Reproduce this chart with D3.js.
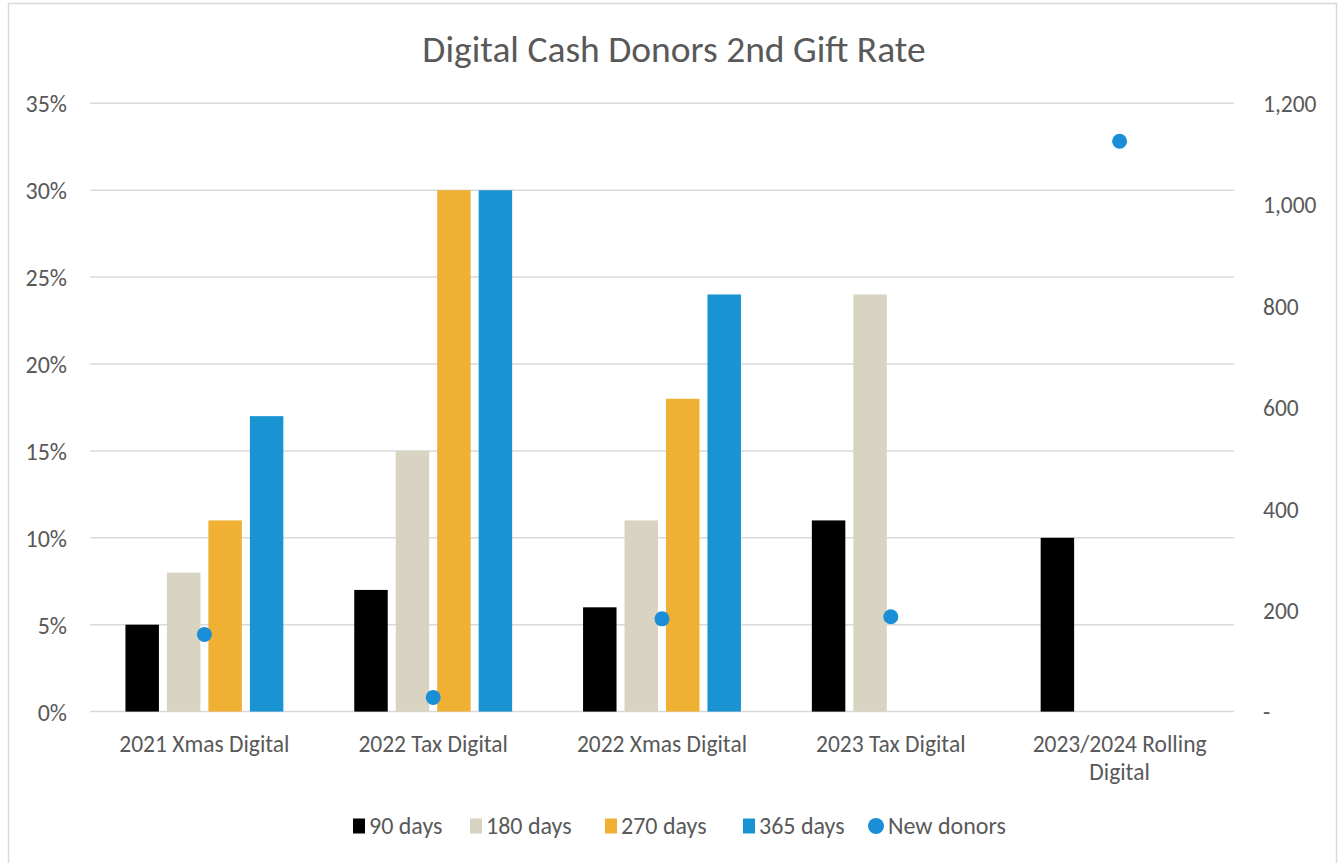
<!DOCTYPE html>
<html>
<head>
<meta charset="utf-8">
<script src="https://cdn.jsdelivr.net/npm/d3@7"></script>
<style>
  html, body { margin: 0; padding: 0; background: #fff; }
  svg { display: block; }
  text { font-family: Carlito, Lato, "Open Sans", sans-serif; fill: #595959; }
</style>
</head>
<body>
<svg id="chart" width="1341" height="863"></svg>
<script>
// Campaign cohorts along the x axis
const categories = ["2021 Xmas Digital", "2022 Tax Digital", "2022 Xmas Digital", "2023 Tax Digital", "2023/2024 Rolling Digital"];
// Second-gift rate within each window (null = not yet measurable)
const series = ["90 days", "180 days", "270 days", "365 days"];
const rate90  = [0.05, 0.07, 0.06, 0.11, 0.10];
const rate180 = [0.08, 0.15, 0.11, 0.24, null];
const rate270 = [0.11, 0.30, 0.18, null, null];
const rate365 = [0.17, 0.30, 0.24, null, null];
// Count of new donors per cohort (right axis)
const newDonors = [152, 28, 183, 187, 1125];
// Axis ticks
const leftTicks = [0, 0.05, 0.10, 0.15, 0.20, 0.25, 0.30, 0.35];
const rightTicks = [0, 200, 400, 600, 800, 1000, 1200];

const colors = { "90 days": "#000000", "180 days": "#d9d3c1", "270 days": "#f0b034", "365 days": "#1993d1" };
const dotColor = "#1a8fd8";
const rates = { "90 days": rate90, "180 days": rate180, "270 days": rate270, "365 days": rate365 };

const svg = d3.select("#chart");
const plot = { left: 90, right: 1234, top: 103.3, bottom: 711.6 };

// Chart frame
svg.append("rect").attr("x", 8.5).attr("y", 3.5).attr("width", 1328).attr("height", 870)
  .attr("fill", "#fff").attr("stroke", "#d9d9d9").attr("stroke-width", 1.5);

const x0 = d3.scaleBand().domain(categories).range([plot.left, plot.right]).padding(0);
const x1 = d3.scaleBand().domain(series).range([0, x0.bandwidth()]).paddingInner(0.193).paddingOuter(0.855);
const yL = d3.scaleLinear().domain([0, 0.35]).range([plot.bottom, plot.top]);
const yR = d3.scaleLinear().domain([0, 1200]).range([plot.bottom, plot.top]);

// Title
svg.append("text").attr("x", 674).attr("y", 62).attr("text-anchor", "middle")
  .style("font-size", "37.5px").text("Digital Cash Donors 2nd Gift Rate");

// Horizontal gridlines
svg.append("g").selectAll("line").data(leftTicks).join("line")
  .attr("x1", plot.left).attr("x2", plot.right)
  .attr("y1", d => yL(d)).attr("y2", d => yL(d))
  .attr("stroke", "#d9d9d9").attr("stroke-width", 1.5);

// Left axis
const leftAxis = svg.append("g").attr("transform", `translate(${plot.left},0)`)
  .call(d3.axisLeft(yL).tickValues(leftTicks).tickFormat(d3.format(".0%")).tickSize(0).tickPadding(23));
leftAxis.select(".domain").remove();
leftAxis.selectAll("text").style("font-size", "24px").attr("fill", "#595959").attr("dy", "0.35em");

// Right axis
const rightAxis = svg.append("g").attr("transform", `translate(${plot.right},0)`)
  .call(d3.axisRight(yR).tickValues(rightTicks).tickFormat(d => d === 0 ? "-" : d3.format(",")(d)).tickSize(0).tickPadding(29));
rightAxis.select(".domain").remove();
rightAxis.selectAll("text").style("font-size", "23.5px").attr("fill", "#595959").attr("dy", "0.35em");

// Bars
const groups = svg.append("g").selectAll("g").data(categories).join("g")
  .attr("transform", d => `translate(${x0(d)},0)`);
groups.selectAll("rect")
  .data((c, i) => series.map(s => ({ s, v: rates[s][i] })).filter(d => d.v != null))
  .join("rect")
  .attr("x", d => x1(d.s)).attr("width", x1.bandwidth())
  .attr("y", d => yL(d.v)).attr("height", d => yL(0) - yL(d.v))
  .attr("fill", d => colors[d.s]);

// New donors markers
svg.append("g").selectAll("circle").data(newDonors).join("circle")
  .attr("cx", (d, i) => x0(categories[i]) + x0.bandwidth() / 2)
  .attr("cy", d => yR(d)).attr("r", 7.5).attr("fill", dotColor);

// Category labels (wrapped when long)
const catLabels = svg.append("g").selectAll("text").data(categories).join("text")
  .attr("text-anchor", "middle").style("font-size", "23.5px")
  .attr("x", d => x0(d) + x0.bandwidth() / 2).attr("y", 752);
catLabels.each(function (d) {
  const t = d3.select(this);
  const lines = d.length > 20 ? [d.slice(0, d.lastIndexOf(" ")), d.slice(d.lastIndexOf(" ") + 1)] : [d];
  lines.forEach((ln, k) => t.append("tspan").attr("x", t.attr("x")).attr("dy", k === 0 ? 0 : 28).text(ln));
});

// Legend: swatch then label for each entry
const legendItems = series.map(s => ({ name: s, type: "rect", color: colors[s] }))
  .concat([{ name: "New donors", type: "dot", color: dotColor }]);
const legendSlots = [353, 470, 605, 743, 868];
const lg = svg.append("g").attr("transform", "translate(0,826)")
  .selectAll("g").data(legendItems).join("g")
  .attr("transform", (d, i) => `translate(${legendSlots[i]},0)`);
lg.filter(d => d.type === "rect").append("rect")
  .attr("x", 0).attr("y", -7.5).attr("width", 12).attr("height", 15).attr("fill", d => d.color);
lg.filter(d => d.type === "dot").append("circle")
  .attr("cx", 8).attr("cy", 0).attr("r", 8).attr("fill", d => d.color);
lg.append("text").attr("x", d => d.type === "dot" ? 20 : 16).attr("dy", "0.35em")
  .style("font-size", "24px").text(d => d.name);
</script>
</body>
</html>
